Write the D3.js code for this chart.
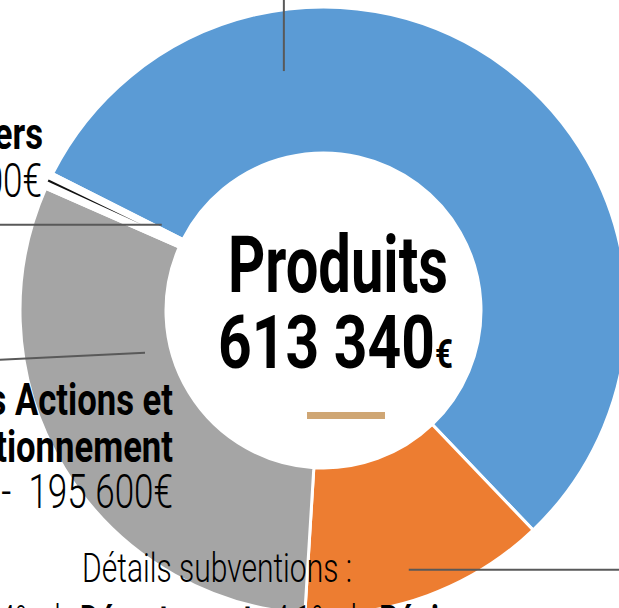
<!DOCTYPE html>
<html>
<head>
<meta charset="utf-8">
<script src="https://cdn.jsdelivr.net/npm/d3@7"></script>
<style>
  body { margin: 0; background: #fff; }
  svg { display: block; font-family: Roboto, "Noto Sans", sans-serif; }
</style>
</head>
<body>
<svg id="chart" width="619" height="608"></svg>
<script>
var categories = ["Produits d'activité", "Subventions", "Participations des Actions et Fonctionnement", "Produits divers"];
var values = [339940, 80400, 187800, 5200];
var colors = ["#5B9BD5", "#ED7D31", "#A5A5A5", "#FFFFFF"];
var centerTitle = "Produits";
var centerTotal = "613 340";

var grayLabel = ["Participations des Actions et", "de Fonctionnement", "32% -\u00A0 195 600€"];
var smallLabel = ["Produits divers", "0,8% - 5 200€"];
var subvTitle = "Détails subventions :";

var width = 619, height = 608;
var cx = 323.5, cy = 310.5;
var rOuter = 303.5, rInner = 157.5;
var startDeg = -63.2;
var rad = Math.PI / 180;

var svg = d3.select('#chart');
svg.append('rect').attr('width', width).attr('height', height).attr('fill', '#fff');

function polar(r, a) {
	return [cx + r * Math.sin(a), cy - r * Math.cos(a)];
}

var pie = d3.pie()
	.sort(null)
	.value(function (d) { return d; })
	.startAngle(startDeg * rad)
	.endAngle(startDeg * rad + 2 * Math.PI);

var arc = d3.arc().innerRadius(rInner).outerRadius(rOuter);
var arcs = pie(values);

var ring = svg.append('g').attr('transform', 'translate(' + cx + ',' + cy + ')');

ring.selectAll('path.slice')
	.data(arcs)
	.enter()
	.append('path')
	.attr('class', 'slice')
	.attr('d', arc)
	.attr('fill', function (d, i) { return colors[i]; })
	.attr('stroke', '#fff')
	.attr('stroke-width', 3);

// thin dark wedge inside the tiny slice
var tiny = arcs[3];
var mid = (tiny.startAngle + tiny.endAngle) / 2;
var d0 = 1.2 / rOuter;
var wedge = [polar(rOuter + 1, mid - d0), polar(rOuter + 1, mid + d0), polar(200, mid)];
svg.append('path')
	.attr('d', d3.line()(wedge) + 'Z')
	.attr('fill', '#111');

// leader lines (angle in degrees, radius where they touch the ring, outside end)
var leaders = [
	{ deg: 350.6, r: 242.7, end: function (p) { return [p[0], -5]; } },
	{ deg: 297.9, r: 183, end: function (p) { return [-5, p[1]]; } },
	{ deg: 256.7, r: 183.4, end: function (p) { return [-5, 360]; } },
	{ deg: 161.8, r: 273, end: function (p) { return [625, p[1]]; } }
];

svg.selectAll('line.leader')
	.data(leaders)
	.enter()
	.append('line')
	.attr('class', 'leader')
	.each(function (d) {
		var p = polar(d.r, d.deg * rad);
		var q = d.end(p);
		d3.select(this).attr('x1', p[0]).attr('y1', p[1]).attr('x2', q[0]).attr('y2', q[1]);
	})
	.attr('stroke', '#595959')
	.attr('stroke-width', 2);

// text helper: parts = [[text, size, weight], ...], squeezed horizontally
function addText(x, y, parts, anchor, sx, fitWidth) {
	var g = svg.append('g').attr('transform', 'translate(' + x + ',' + y + ')');
	var t = g.append('text').attr('text-anchor', anchor).attr('fill', '#000');
	parts.forEach(function (p) {
		t.append('tspan').text(p[0]).attr('font-size', p[1]).attr('font-weight', p[2]);
	});
	if (fitWidth) sx = fitWidth / t.node().getComputedTextLength();
	t.attr('transform', 'scale(' + sx + ',1)');
	return t;
}

// centre
addText(338, 292, [[centerTitle, 80, 700]], 'middle', 1, 220);
addText(335.5, 368, [[centerTotal, 75, 700], ['€', 40, 700]], 'middle', 1, 235);

svg.append('rect')
	.attr('x', 307).attr('y', 412)
	.attr('width', 78).attr('height', 7)
	.attr('fill', '#CFA674');

// gray slice label
addText(173, 415, [[grayLabel[0], 45, 700]], 'end', 0.77);
addText(173, 462, [[grayLabel[1], 45, 700]], 'end', 0.77);
addText(173, 508, [[grayLabel[2], 48, 300]], 'end', 0.73);

// tiny slice label
addText(43, 149, [[smallLabel[0], 45, 700]], 'end', 0.77);
addText(42, 197, [[smallLabel[1], 48, 300]], 'end', 0.73);

// subventions details
addText(217, 582, [[subvTitle, 41, 300]], 'middle', 1, 270);
addText(76, 634, [['14% de', 41, 300]], 'end', 0.72);
addText(80, 634, [['Département', 41, 700]], 'start', 0.72);
addText(273, 634, [['4,1% de ', 41, 300], ['Région', 41, 700]], 'start', 0.72);
</script>
</body>
</html>
